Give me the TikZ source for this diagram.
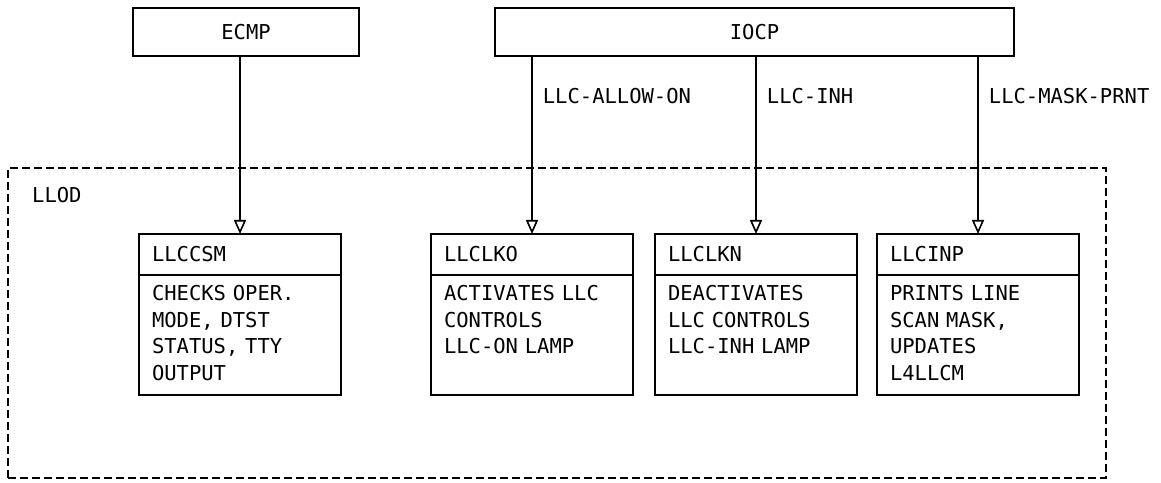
\documentclass[tikz,border=0pt]{standalone}
\usepackage{fontspec}
\setmainfont{DejaVu Sans Mono}[WordSpace={1,0,0}]
\usetikzlibrary{arrows.meta,positioning}

\tikzset{
  box/.style={draw, line width=1.8pt, outer sep=0pt, minimum height=48pt},
  head/.style={draw, line width=1.8pt, outer sep=0pt, minimum height=41pt, text width=176pt, inner xsep=13pt, align=left},
  body/.style={draw, line width=1.8pt, outer sep=0pt, text width=176pt, inner xsep=13pt, inner ysep=7.5pt, text height=18.5pt, text depth=86.5pt, align=left},
  flow/.style={line width=1.8pt, -{Triangle[open,length=14pt,width=12pt,line width=1.6pt]}},
  lbl/.style={anchor=west, inner sep=0pt, xshift=10pt}
}

\begin{document}
\begin{tikzpicture}[x=1pt, y=1pt, font=\fontsize{20.5}{26.5}\selectfont]
\useasboundingbox (0,0) rectangle (1161,482);
% callers
\node[box, minimum width=226pt] (ecmp) at (246,450) {ECMP};
\node[box, minimum width=519pt] (iocp) at (754.5,450) {IOCP};
% LLOD
\draw[line width=1.6pt, dash pattern=on 8pt off 4pt] (8,4) rectangle (1106,314);
\node[anchor=west, inner sep=0pt] (llod) at (32,287) {LLOD};
\node[head, anchor=north west] (llccsm) at (139,248) {LLCCSM};
\node[head, right=90pt of llccsm] (llclko) {LLCLKO};
\node[head, right=22pt of llclko] (llclkn) {LLCLKN};
\node[head, right=20pt of llclkn] (llcinp) {LLCINP};
\node[body, anchor=north] (csmtxt) at (llccsm.south) {CHECKS OPER.\\MODE, DTST\\STATUS, TTY\\OUTPUT};
\node[body, anchor=north] (lkotxt) at (llclko.south) {ACTIVATES LLC\\CONTROLS\\LLC-ON LAMP};
\node[body, anchor=north] (lkntxt) at (llclkn.south) {DEACTIVATES\\LLC CONTROLS\\LLC-INH LAMP};
\node[body, anchor=north] (inptxt) at (llcinp.south) {PRINTS LINE\\SCAN MASK,\\UPDATES\\L4LLCM};
% messages
\draw[flow] (ecmp.south -| llccsm.north) -- (llccsm.north);
\draw[flow] (iocp.south -| llclko.north) -- node[lbl, pos=.225] (allow) {LLC-ALLOW-ON} (llclko.north);
\draw[flow] (iocp.south -| llclkn.north) -- node[lbl, pos=.225] (inh) {LLC-INH} (llclkn.north);
\draw[flow] (iocp.south -| llcinp.north) -- node[lbl, pos=.225] (mask) {LLC-MASK-PRNT} (llcinp.north);
\end{tikzpicture}
\end{document}
